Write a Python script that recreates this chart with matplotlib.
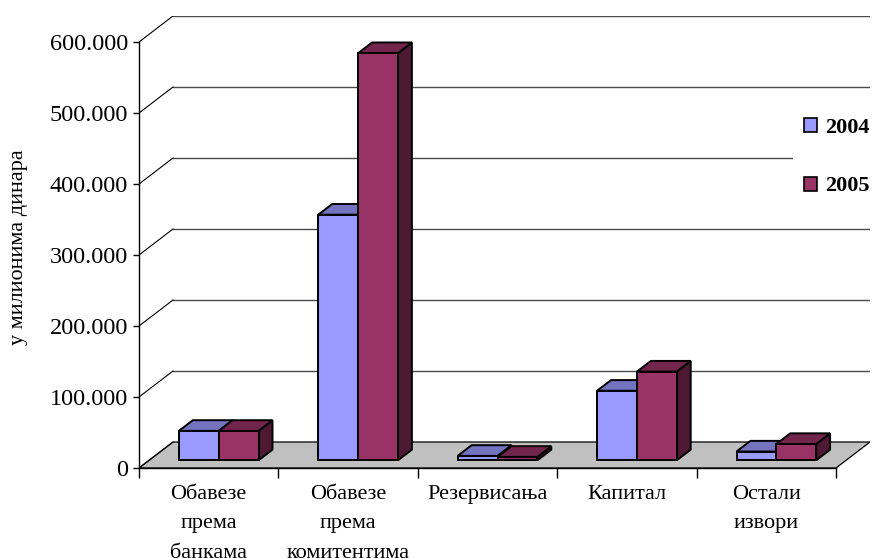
import numpy as np
import matplotlib
matplotlib.use("Agg")
import matplotlib.pyplot as plt
from matplotlib.patches import Polygon, Patch
from matplotlib.ticker import FuncFormatter

plt.rcParams['font.family'] = ['Liberation Serif', 'DejaVu Serif']

# data (milioni dinara)
categories = ['Обавезе\nпрема\nбанкама', 'Обавезе\nпрема\nкомитентима',
              'Резервисања', 'Капитал', 'Остали\nизвори']
years = ['2004', '2005']
vals_2004 = [41500, 346000, 6300, 98000, 12400]
vals_2005 = [41500, 573500, 4900, 125000, 23000]
yticks = [0, 100000, 200000, 300000, 400000, 500000, 600000]

face_cols = ['#9999FF', '#993366']
top_cols = ['#7373C0', '#73264D']
side_cols = ['#4D4D80', '#4D1933']

W, H = 874, 558
fig = plt.figure(figsize=(W / 100, H / 100), dpi=100)

# front plot area in pixels, plus the 3d depth offset
left_px, right_px, bot_px, top_px = 139, 870, 90, 542
cat_px = 139.4
val_px = 71.0 / 100000
DX = 34 / cat_px
DY = 26 / val_px
ax = fig.add_axes([left_px / W, bot_px / H, (right_px - left_px) / W, (top_px - bot_px) / H])
ax.set_xlim(-0.5, 4.5 + DX)
ax.set_ylim(0, 600000 + DY)
ax.set_facecolor('none')

n = len(categories)
ymax = yticks[-1]

# floor
floor = Polygon([(-0.5, 0), (n - 0.5, 0), (n - 0.5 + DX, DY), (-0.5 + DX, DY)],
                closed=True, facecolor='#C0C0C0', edgecolor='black', lw=0.9, zorder=1)
ax.add_patch(floor)

# walls: diagonals on left side and lines on back
for v in yticks:
    ax.plot([-0.5, -0.5 + DX], [v, v + DY], color='black', lw=0.8, zorder=1)
    if v > 0:
        ax.plot([-0.5 + DX, n - 0.5 + DX], [v + DY, v + DY], color='#4a4a4a', lw=1.0, zorder=0)

# bars
w = 1 / 3.5
gap = 0.75 / 3.5
d0, d1 = 0.295, 0.705
for i in range(n):
    for s, vals in enumerate([vals_2004, vals_2005]):
        v = vals[i]
        x0 = i - 0.5 + gap + s * w
        xa, xb = x0 + d0 * DX, x0 + w + d0 * DX
        xc, xd = x0 + d1 * DX, x0 + w + d1 * DX
        ya, yc = d0 * DY, d1 * DY
        kw = dict(closed=True, edgecolor='black', lw=1.4, joinstyle='miter', zorder=3)
        ax.add_patch(Polygon([(xb, ya), (xb, ya + v), (xd, yc + v), (xd, yc)],
                             facecolor=side_cols[s], **kw))
        ax.add_patch(Polygon([(xa, ya + v), (xb, ya + v), (xd, yc + v), (xc, yc + v)],
                             facecolor=top_cols[s], **kw))
        ax.add_patch(Polygon([(xa, ya), (xb, ya), (xb, ya + v), (xa, ya + v)],
                             facecolor=face_cols[s], **kw))

# axes lines
for sp in ['top', 'right']:
    ax.spines[sp].set_visible(False)
ax.spines['left'].set_bounds(0, ymax)
ax.spines['bottom'].set_bounds(-0.5, n - 0.5)
ax.spines['left'].set_linewidth(1.0)
ax.spines['bottom'].set_linewidth(1.0)
ax.spines['left'].set_zorder(5)
ax.spines['bottom'].set_zorder(5)

ax.set_yticks(yticks)
ax.yaxis.set_major_formatter(FuncFormatter(lambda v, p: f'{int(v):,}'.replace(',', '.')))
ax.tick_params(axis='y', direction='out', length=4.5, width=1, pad=3.5, labelsize=17.5)

ax.set_xticks(np.arange(n + 1) - 0.5)
ax.set_xticklabels([])
ax.set_xticks(np.arange(n), minor=True)
ax.set_xticklabels(categories, minor=True, fontsize=16, linespacing=1.75)
ax.tick_params(axis='x', which='major', direction='out', length=7, width=1)
ax.tick_params(axis='x', which='minor', length=0, pad=12)

fig.text(19 / W, 1 - 247 / H, 'у милионима динара', rotation=90, ha='center', va='center', fontsize=16)

handles = [Patch(facecolor=face_cols[k], edgecolor='black', lw=1.2) for k in range(2)]
leg = ax.legend(handles, years, loc='center left', bbox_to_anchor=(793 / W, 1 - 157 / H),
                bbox_transform=fig.transFigure, frameon=True, fancybox=False,
                facecolor='white', edgecolor='none', framealpha=1,
                handlelength=0.6, handleheight=0.6, handletextpad=0.35,
                labelspacing=1.75, borderpad=0.5, borderaxespad=0,
                prop={'size': 16, 'weight': 'bold'})
leg.set_zorder(10)

fig.savefig('out.png', dpi=100)
